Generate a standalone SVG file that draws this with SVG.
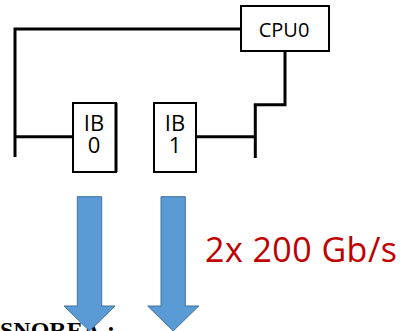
<svg xmlns="http://www.w3.org/2000/svg" width="405" height="331" viewBox="0 0 405 331">
<style>
.box{fill:#fff;stroke:#000;stroke-width:2}
.wire{fill:none;stroke:#000;stroke-width:3}
.lbl{font-family:"Open Sans","Liberation Sans",sans-serif;fill:#000;text-anchor:middle}
.arrow{fill:#5B9BD5;stroke:#41719C;stroke-width:1}
.doc{font-family:"Liberation Serif",serif;font-weight:bold;font-size:24px;fill:#000}
</style>
<rect width="405" height="331" fill="#fff"/>
<g id="connectors">
<polyline class="wire" points="241,29 15,29 15,157"/>
<line class="wire" x1="15" y1="136.7" x2="73" y2="136.7"/>
<line class="wire" x1="196" y1="136.7" x2="255.3" y2="136.7"/>
<line class="wire" x1="255.3" y1="158" x2="255.3" y2="104.7"/>
<polyline class="wire" points="253.8,104.7 285,104.7 285,51"/>
</g>
<g id="cpu0">
<rect class="box" x="241" y="6" width="88" height="45"/>
<text class="lbl" x="284" y="36.5" font-size="20">CPU0</text>
</g>
<g id="ib0">
<rect class="box" x="73" y="103" width="43" height="69"/>
<line x1="116" y1="103" x2="116" y2="172" stroke="#000" stroke-width="3"/>
<text class="lbl" x="94" y="130.5" font-size="22">IB</text>
<text class="lbl" x="94" y="153" font-size="22">0</text>
</g>
<g id="ib1">
<rect class="box" x="154" y="103" width="42" height="69"/>
<text class="lbl" x="175" y="130.5" font-size="22">IB</text>
<text class="lbl" x="175" y="153" font-size="22">1</text>
</g>
<g id="bottom-text">
<text class="doc" x="0" y="338">SNOREA</text>
<text class="doc" x="107" y="338">:</text>
</g>
<g id="arrows">
<path class="arrow" d="M77.3,196.7 H101.7 V306 H115 L89.5,331 L64,306 H77.3 Z"/>
<path class="arrow" d="M161,196.7 H185.3 V306 H198.7 L173.2,331 L147.7,306 H161 Z"/>
</g>
<g id="rate">
<text x="205" y="261.5" font-family="'Open Sans','Liberation Sans',sans-serif" font-size="34" fill="#C00000" textLength="192" lengthAdjust="spacing">2x 200 Gb/s</text>
</g>
</svg>
